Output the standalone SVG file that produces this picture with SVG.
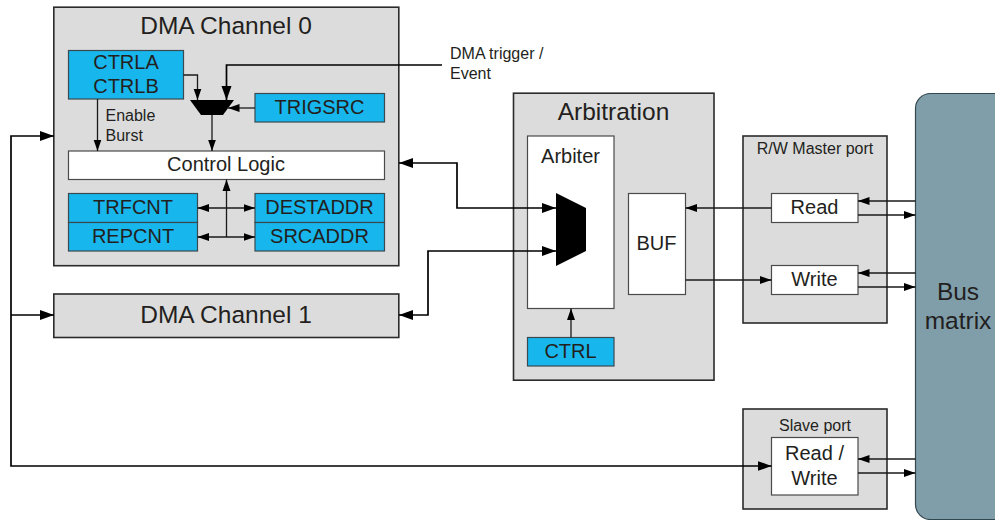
<svg xmlns="http://www.w3.org/2000/svg" width="995" height="520" viewBox="0 0 995 520">
<defs>
<marker id="a" markerUnits="userSpaceOnUse" markerWidth="15" markerHeight="11" refX="14" refY="5.500" orient="auto-start-reverse"><path d="M0 0.500L14 5.500L0 10.500Z" fill="#000"/></marker>
<marker id="m" markerUnits="userSpaceOnUse" markerWidth="12" markerHeight="9" refX="11.500" refY="4.500" orient="auto-start-reverse"><path d="M0 0.500L11.500 4.500L0 8.500Z" fill="#000"/></marker>
</defs>
<style>
text{font-family:"Liberation Sans",Arial,sans-serif;fill:#231f20;text-anchor:middle}
.g{fill:#dcdcdc;stroke:#2b2b2b;stroke-width:1.6}
.b{fill:#17b6ec;stroke:#3a4a50;stroke-width:1.2}
.w{fill:#fff;stroke:#4a4a4a;stroke-width:1.2}
.c{fill:none;stroke:#1a1a1a;stroke-width:1.3}
.t{fill:none;stroke:#000;stroke-width:1.7}
.s1{font-size:24.500px}.s2{font-size:20px}.s3{font-size:16px}
.l{text-anchor:start}
</style>
<rect width="995" height="520" fill="#fff"/>
<g id="dma0">
<rect class="g" x="53.800" y="7.200" width="345" height="258.500"/>
<text class="s1" x="226" y="33.500">DMA Channel 0</text>
</g>
<g id="ctrl-ab"><rect class="b" x="68.500" y="50.500" width="115" height="48.500"/><text class="s2" x="126" y="69">CTRLA</text><text class="s2" x="126" y="93">CTRLB</text></g>
<g id="trigsrc"><rect class="b" x="255" y="93.500" width="129.500" height="28.500"/><text class="s2" x="319.500" y="114">TRIGSRC</text></g>
<g id="control-logic"><rect class="w" x="68.500" y="151" width="316" height="28.500"/><text class="s2" x="226" y="171">Control Logic</text></g>
<g id="trfcnt"><rect class="b" x="68.500" y="193.500" width="129" height="29"/><text class="s2" x="133" y="214">TRFCNT</text></g>
<g id="repcnt"><rect class="b" x="68.500" y="222.500" width="129" height="28.500"/><text class="s2" x="133" y="243">REPCNT</text></g>
<g id="destaddr"><rect class="b" x="255" y="193.500" width="129.500" height="29"/><text class="s2" x="319.500" y="214">DESTADDR</text></g>
<g id="srcaddr"><rect class="b" x="255" y="222.500" width="129.500" height="28.500"/><text class="s2" x="319.500" y="243">SRCADDR</text></g>
<g id="mux0"><path d="M190 100H234L223 115H201Z" fill="#000"/></g>
<g id="enable-burst"><text class="s3 l" x="105.500" y="121">Enable</text><text class="s3 l" x="105.500" y="141">Burst</text></g>
<g id="dma1"><rect class="g" x="53.800" y="294" width="345" height="43.500"/><text class="s1" x="226" y="323">DMA Channel 1</text></g>
<g id="arbitration"><rect class="g" x="513.500" y="93.200" width="200.500" height="287"/><text class="s1" x="613.500" y="120">Arbitration</text></g>
<g id="arbiter"><rect class="w" x="527.500" y="136" width="86.500" height="172.500"/><text class="s2" x="570.500" y="163">Arbiter</text></g>
<g id="mux1"><path d="M556 193L586 208V251L556 266Z" fill="#000"/></g>
<g id="buf"><rect class="w" x="628.500" y="193.500" width="57" height="101"/><text class="s2" x="656.500" y="250">BUF</text></g>
<g id="ctrl"><rect class="b" x="527.500" y="337.500" width="86.500" height="28.500"/><text class="s2" x="570.500" y="358">CTRL</text></g>
<g id="master-port"><rect class="g" x="743" y="136" width="144" height="187"/><text class="s3" x="815" y="154">R/W Master port</text></g>
<g id="read"><rect class="w" x="771.500" y="193.500" width="86.500" height="29"/><text class="s2" x="814.500" y="214">Read</text></g>
<g id="write"><rect class="w" x="771.500" y="265.500" width="86.500" height="29"/><text class="s2" x="814.500" y="286">Write</text></g>
<g id="slave-port"><rect class="g" x="743" y="409" width="144" height="100"/><text class="s3" x="815" y="431">Slave port</text></g>
<g id="read-write"><rect class="w" x="771.500" y="437.500" width="86.500" height="57.500"/><text class="s2" x="814.500" y="460">Read /</text><text class="s2" x="814.500" y="485">Write</text></g>
<g id="bus-matrix"><rect x="915.500" y="93.500" width="100" height="426" rx="15" fill="#7f9eaa" stroke="#33474f" stroke-width="1.200"/><text class="s1" x="958" y="300">Bus</text><text class="s1" x="958" y="329">matrix</text></g>
<g id="trigger-label"><text class="s3 l" x="450" y="59">DMA trigger /</text><text class="s3 l" x="450" y="79">Event</text></g>
<g id="connectors">
<path class="c" d="M183.500 75H197.500V100" marker-end="url(#m)"/>
<path class="t" d="M442 65H226.500V100" marker-end="url(#a)"/>
<path class="c" d="M255 108H228" marker-end="url(#m)"/>
<path class="c" d="M212 115V151" marker-end="url(#m)"/>
<path class="c" d="M97.500 99V151" marker-end="url(#m)"/>
<path class="c" d="M226.500 237V179.500" marker-end="url(#m)"/>
<path class="c" d="M197.500 208H255" marker-start="url(#m)" marker-end="url(#m)"/>
<path class="c" d="M197.500 237H255" marker-start="url(#m)" marker-end="url(#m)"/>
<path class="t" d="M399 163H457V208H556" marker-start="url(#a)" marker-end="url(#a)"/>
<path class="t" d="M399 315H428V251H556" marker-start="url(#a)" marker-end="url(#a)"/>
<path class="t" d="M771.500 466H11V136H54" marker-start="url(#a)" marker-end="url(#a)"/>
<path class="t" d="M11 315H54" marker-end="url(#a)"/>
<path class="c" d="M571 337.500V308.500" marker-end="url(#m)"/>
<path class="c" d="M771.500 208H685.500" marker-end="url(#m)"/>
<path class="c" d="M685.500 280H771.500" marker-end="url(#m)"/>
<path class="c" d="M915.500 201H858" marker-end="url(#m)"/>
<path class="c" d="M858 215H915.500" marker-end="url(#m)"/>
<path class="c" d="M915.500 273H858" marker-end="url(#m)"/>
<path class="c" d="M858 287H915.500" marker-end="url(#m)"/>
<path class="c" d="M915.500 459H858" marker-end="url(#m)"/>
<path class="c" d="M858 473H915.500" marker-end="url(#m)"/>
</g>
</svg>
